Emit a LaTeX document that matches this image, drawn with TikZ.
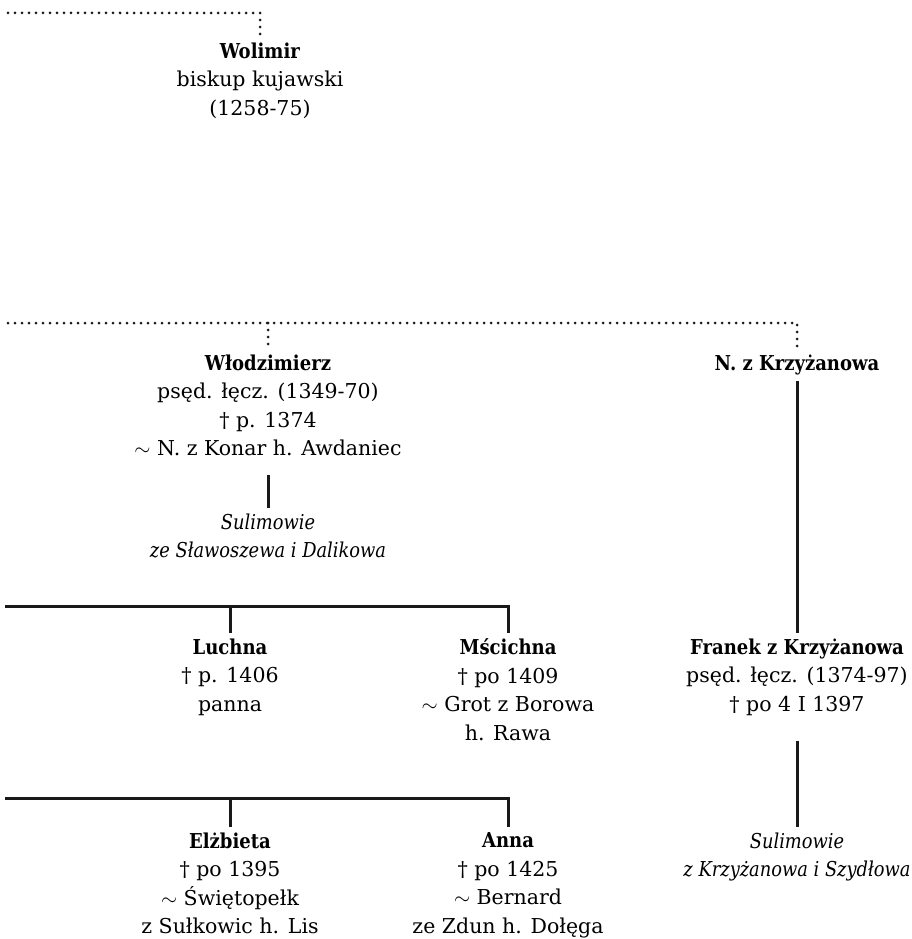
\documentclass[tikz,border=0pt]{standalone}
\usepackage{fontspec}
\setmainfont{DejaVu Serif}[BoldFeatures={FakeStretch=0.88}, ItalicFeatures={FakeStretch=0.87}]
\begin{document}
\begin{tikzpicture}[x=1pt, y=-1pt,
    person/.style={align=center, anchor=north, inner xsep=0pt, inner ysep=6pt, font=\fontsize{20.5}{28.5}\selectfont},
    house/.style={person, font=\fontsize{20.5}{28.5}\selectfont\itshape},
    bar/.style={line width=3pt, black!90},
    kin/.style={line width=3pt, line cap=round, dash pattern=on 0pt off 7pt, black!90},
]
\useasboundingbox (0,0) rectangle (911,939);

% Wolimir
\coordinate (topL) at (8,13);
\node[person] (wolimir) at (260,36.5) {\textbf{Wolimir}\\biskup kujawski\\(1258-75)};
\draw[kin] (topL) -| (wolimir.north);

% Second generation
\coordinate (midL) at (8,323);
\node[person] (wlodz) at (268,348.5) {\textbf{Włodzimierz}\\psęd. łęcz. (1349-70)\\† p. 1374\\$\sim$ N. z Konar h. Awdaniec};
\node[person] (nzk) at (797,348.5) {\textbf{N. z Krzyżanowa}};
\node[house] (sulL) at (268,507.5) {Sulimowie\\ze Sławoszewa i Dalikowa};
\draw[kin] (midL) -| (nzk.north);
\draw[kin] (wlodz.north |- midL) -- (wlodz.north);
\draw[bar, shorten <=13pt] (wlodz.south) -- (sulL.north);

% Third row
\node[person] (luchna) at (230,632.5) {\textbf{Luchna}\\† p. 1406\\panna};
\node[person] (mscichna) at (508,632.5) {\textbf{Mścichna}\\† po 1409\\$\sim$ Grot z Borowa\\h. Rawa};
\node[person] (franek) at (797,632.5) {\textbf{Franek z Krzyżanowa}\\psęd. łęcz. (1374-97)\\† po 4 I 1397};
\coordinate (bar1L) at (5,606);
\draw[bar] (bar1L) -| (mscichna.north);
\draw[bar] (luchna.north |- bar1L) -- (luchna.north);
\draw[bar] (nzk.south) -- (franek.north);

% Fourth row
\node[person] (elzbieta) at (230,826.5) {\textbf{Elżbieta}\\† po 1395\\$\sim$ Świętopełk\\z Sułkowic h. Lis};
\node[person] (anna) at (508,826.5) {\textbf{Anna}\\† po 1425\\$\sim$ Bernard\\ze Zdun h. Dołęga};
\node[house] (sulR) at (797,826.5) {Sulimowie\\z Krzyżanowa i Szydłowa};
\coordinate (bar2L) at (5,798);
\draw[bar] (bar2L) -| (anna.north);
\draw[bar] (elzbieta.north |- bar2L) -- (elzbieta.north);
\draw[bar, shorten <=19pt] (franek.south) -- (sulR.north);
\end{tikzpicture}
\end{document}
